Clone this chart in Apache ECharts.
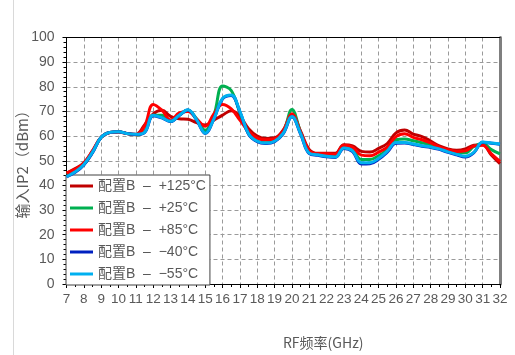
<!DOCTYPE html>
<html>
<head>
<meta charset="utf-8">
<script src="https://cdn.jsdelivr.net/npm/echarts@6/dist/echarts.min.js"></script>
<style>
  html, body { margin: 0; padding: 0; background: #fff; }
  #chart { width: 515px; height: 355px; }
</style>
</head>
<body>
<div id="chart"></div>
<script>
// RF frequency sweep, GHz
var freq = [7, 7.5, 8, 8.5, 9, 9.5, 10, 10.5, 11, 11.5, 12, 12.5, 13, 13.5, 14, 14.5, 15, 15.5, 16, 16.5,
  17, 17.5, 18, 18.5, 19, 19.5, 20, 20.5, 21, 21.5, 22, 22.5, 23, 23.5, 24, 24.5, 25, 25.5, 26, 26.5,
  27, 27.5, 28, 28.5, 29, 29.5, 30, 30.5, 31, 31.5, 32];

// Input IP2 (dBm) per temperature
var ip2_p125 = [45, 46.8, 49.2, 54, 59.5, 61.5, 61.7, 61, 60.8, 64.5, 69, 70.5, 68, 67, 66.8, 65.5, 64.5, 66.5, 68.5, 70.3,
  68, 63, 60, 59, 59.3, 62.5, 69, 62, 54.5, 53, 53, 53, 56.5, 56, 53.8, 53.5, 55, 57, 61.3, 62.5,
  60.8, 59.8, 58, 56, 54.8, 54.3, 54.8, 56.3, 56.5, 52.3, 48.8];
var ip2_p25 = [44.5, 46, 48.5, 53.5, 59.5, 61.5, 61.8, 61, 60.5, 62, 68.5, 68.5, 66, 68.5, 70.5, 67, 62.3, 68.5, 80.3, 78.5,
  69.5, 61, 58, 57.3, 58, 61.5, 70.8, 61.5, 53.5, 52.5, 52, 51.8, 55.5, 54.5, 50.5, 50.5, 52, 54.5, 58.5, 58.8,
  58.1, 57.3, 56.5, 55.2, 54, 53.3, 53.2, 55.8, 57, 54.5, 52.8];
var ip2_p85 = [45, 46.5, 49, 54, 59.5, 61.5, 61.7, 61, 60.5, 64, 72.8, 70.5, 66.5, 69.4, 70, 67, 64, 69, 72.8, 71,
  66.5, 62, 59.2, 58.5, 58.8, 62, 69, 61.5, 54, 52.8, 52.8, 52.6, 56.3, 55.5, 52.3, 52, 53.5, 55.5, 59.8, 61,
  59.5, 58.5, 57.3, 55.5, 54.5, 53.8, 54, 56, 56.3, 52.8, 49.7];
var ip2_m40 = [43.5, 45.3, 48.3, 53.3, 59.5, 61.5, 61.8, 61, 60.6, 61.4, 68.3, 67.4, 65.9, 68.4, 70.6, 66.6, 61.1, 67, 75.1, 76.5,
  69.8, 60.8, 57.7, 57, 57.7, 61, 67.8, 60.8, 52.9, 52.2, 51.6, 51.3, 55, 53.7, 48.7, 48.8, 50.6, 53.5, 57.1, 57.2,
  56.6, 55.9, 55.4, 54.6, 53.4, 52.4, 51.5, 53.3, 57.5, 57.1, 56.7];
var ip2_m55 = [43.5, 45.5, 48.5, 53.5, 59.5, 61.5, 61.8, 61, 60.7, 61.5, 68.5, 67.5, 66, 68.5, 70.7, 66.7, 61.2, 67, 75.3, 76.7,
  70, 61, 57.9, 57.2, 57.9, 61.2, 68, 61, 53.1, 52.4, 51.8, 51.5, 55.2, 54, 49.2, 49.2, 51, 53.9, 57.4, 57.4,
  56.8, 56.1, 55.6, 54.8, 53.6, 52.6, 51.8, 53.5, 57.6, 57.2, 56.8];

var seriesNames = ['配置B  –  +125°C', '配置B  –  +25°C', '配置B  –  +85°C', '配置B  –  −40°C', '配置B  –  −55°C'];
var seriesColors = ['#C00000', '#00B050', '#FF0000', '#0020C0', '#00B0F0'];
var seriesValues = [ip2_p125, ip2_p25, ip2_p85, ip2_m40, ip2_m55];

var xTicks = { min: 7, max: 32, interval: 1 };
var yTicks = { min: 0, max: 100, interval: 10 };

var FONT = '"Liberation Sans", "Noto Sans CJK SC", sans-serif';
var TEXT = '#595959';
var GRIDLINE = { show: true, lineStyle: { color: '#9A9A9A', type: [4, 3], width: 1 } };

function pairs(xs, ys) {
  return xs.map(function (x, i) { return [x, ys[i]]; });
}

var chart = echarts.init(document.getElementById('chart'), null, { renderer: 'canvas' });

chart.setOption({
  animation: false,
  backgroundColor: '#ffffff',
  textStyle: { fontFamily: FONT },
  graphic: [{
    type: 'line',
    shape: { x1: 13.5, y1: 0, x2: 13.5, y2: 355 },
    style: { stroke: '#D9D9D9', lineWidth: 1 },
    silent: true
  }],
  grid: {
    left: 66.5, right: 15, top: 37.5, bottom: 71,
    containLabel: false, outerBoundsMode: 'none'
  },
  legend: {
    orient: 'vertical',
    left: 66, top: 175,
    padding: [3, 4, 3, 4],
    itemGap: 6,
    itemWidth: 23, itemHeight: 3,
    icon: 'rect',
    backgroundColor: '#ffffff',
    borderColor: '#404040', borderWidth: 1,
    textStyle: { color: TEXT, fontSize: 14, fontFamily: FONT, lineHeight: 16 },
    data: seriesNames
  },
  xAxis: [{
    type: 'value',
    min: xTicks.min, max: xTicks.max, interval: xTicks.interval,
    name: 'RF频率(GHz)',
    nameLocation: 'middle',
    nameGap: 52,
    nameMoveOverlap: false,
    nameTextStyle: { color: TEXT, fontSize: 14, fontFamily: '"Noto Sans CJK SC", sans-serif', padding: [0, 0, 0, 80] },
    axisLine: { show: true, onZero: false, lineStyle: { color: '#000', width: 1 } },
    axisTick: { show: true, inside: false, length: 4, lineStyle: { color: '#000' } },
    minorTick: { show: true, splitNumber: 2, length: 3, lineStyle: { color: '#000' } },
    axisLabel: { color: TEXT, fontSize: 13.5, margin: 9, hideOverlap: false, showMinLabel: true, showMaxLabel: true },
    splitLine: GRIDLINE
  }, {
    type: 'value', position: 'top',
    min: xTicks.min, max: xTicks.max,
    axisLine: { show: true, onZero: false, lineStyle: { color: '#000', width: 1 } },
    axisTick: { show: false }, axisLabel: { show: false }, splitLine: { show: false }
  }],
  yAxis: [{
    type: 'value',
    min: yTicks.min, max: yTicks.max, interval: yTicks.interval,
    name: '输入IP2（dBm）',
    nameLocation: 'middle',
    nameGap: 37,
    nameMoveOverlap: false,
    nameTextStyle: { color: TEXT, fontSize: 15, fontFamily: '"Noto Sans CJK SC", sans-serif' },
    axisLine: { show: true, onZero: false, lineStyle: { color: '#000', width: 1 } },
    axisTick: { show: true, inside: false, length: 4, lineStyle: { color: '#000' } },
    minorTick: { show: true, splitNumber: 5, length: 3, lineStyle: { color: '#000' } },
    axisLabel: { color: TEXT, fontSize: 14, margin: 12 },
    splitLine: GRIDLINE
  }, {
    type: 'value', position: 'right',
    min: yTicks.min, max: yTicks.max,
    axisLine: { show: true, onZero: false, lineStyle: { color: '#7F7F7F', width: 3 } },
    axisTick: { show: false }, axisLabel: { show: false }, splitLine: { show: false }
  }],
  series: seriesValues.map(function (vals, i) {
    return {
      name: seriesNames[i],
      type: 'line',
      xAxisIndex: 0, yAxisIndex: 0,
      data: pairs(freq, vals),
      smooth: 0.4,
      showSymbol: false,
      symbol: 'none',
      lineStyle: { color: seriesColors[i], width: 3 },
      itemStyle: { color: seriesColors[i] },
      z: 2 + i
    };
  })
});
</script>
</body>
</html>
